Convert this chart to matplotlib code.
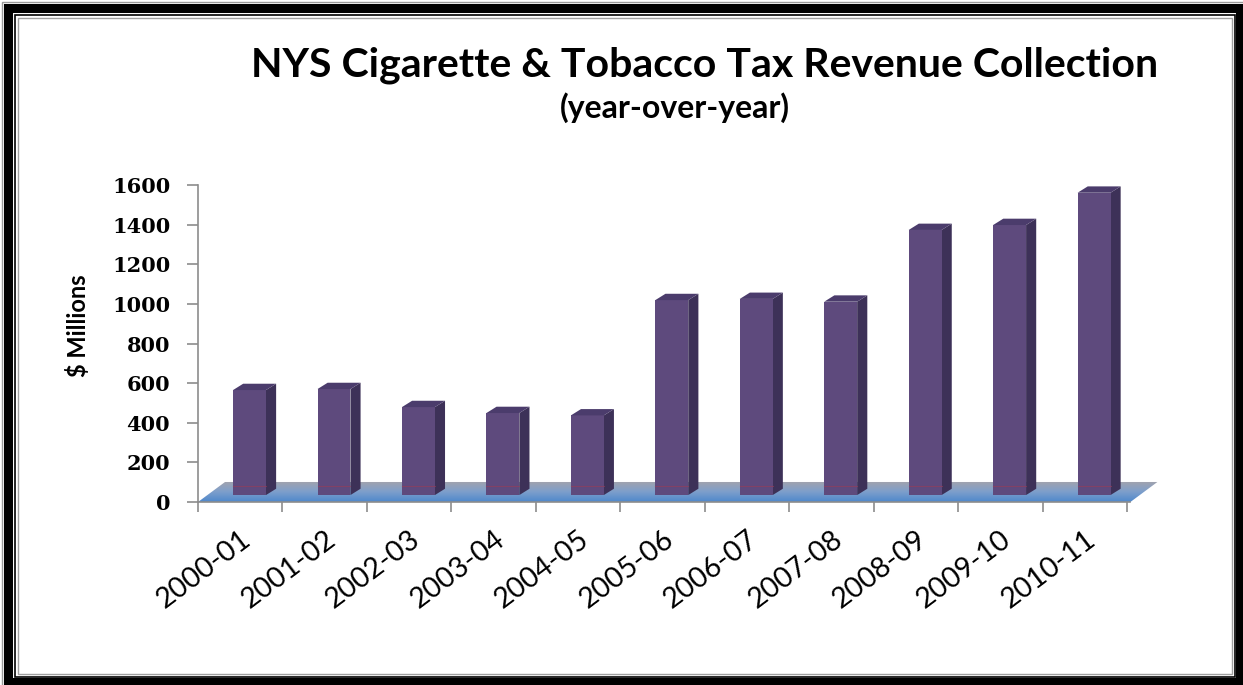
import numpy as np
import matplotlib.pyplot as plt
from matplotlib.patches import Rectangle, Polygon
from matplotlib.colors import LinearSegmentedColormap

# données (millions de $)
years = ["2000-01", "2001-02", "2002-03", "2003-04", "2004-05", "2005-06",
         "2006-07", "2007-08", "2008-09", "2009-10", "2010-11"]
revenue = [530, 535, 444, 414, 402, 984, 990, 976, 1338, 1363, 1526]
yticks = [0, 200, 400, 600, 800, 1000, 1200, 1400, 1600]

W, H = 1243, 685
fig = plt.figure(figsize=(W / 100, H / 100), dpi=100)


def fx(px):
    return px / W


def fy(py):
    return 1 - py / H


# cadre noir double
def frame(x0, y0, x1, y1, lw, color):
    fig.add_artist(Rectangle((fx(x0), fy(y1)), fx(x1) - fx(x0), fy(y0) - fy(y1),
                             transform=fig.transFigure, fill=False,
                             lw=lw, edgecolor=color))

frame(1.5, 1.5, 1250, 690, 1.0, "#9a9a9a")
frame(7.5, 7.5, 1240, 682, 6.5, "black")
frame(14.5, 14.5, 1234.5, 676.5, 1.2, "black")
frame(17.5, 17.5, 1232, 674, 1.0, "#a0a0a0")

# zone du graphique
ax = fig.add_axes([fx(198), fy(502), fx(1127) - fx(198), fy(185) - fy(502)])
ax.patch.set_alpha(0)
for s in ["top", "right", "bottom"]:
    ax.spines[s].set_visible(False)
ax.spines["left"].set_color("#8c8c8c")
ax.spines["left"].set_linewidth(1.2)

# sol en perspective avec dégradé
fdx, fdy = 0.32, 101
floor = Polygon([(0, 0), (11.04, 0), (11.04 + fdx, fdy), (fdx, fdy)],
                closed=True, facecolor="none", edgecolor="none")
ax.add_patch(floor)
floor.set_clip_on(False)
cmap = LinearSegmentedColormap.from_list("floor", ["#4f88cc", "#7e9fcb", "#a3a3ad"])
grad = np.linspace(0, 1, 50).reshape(-1, 1)
im = ax.imshow(grad, cmap=cmap, origin="lower", aspect="auto",
               extent=[0, 11.04 + fdx, 0, fdy], zorder=1)
im.set_clip_path(floor)
im.set_clip_box(fig.bbox)
ax.set_xlim(0, 11)
ax.set_ylim(0, 1600)
ax.plot([0, 11.04], [0, 0], color="#8c8c8c", lw=1.2, clip_on=False, zorder=2)

# barres 3D
x = np.arange(len(years)) + 0.61
bw, base = 0.39, 35
ddx, ddy = 0.12, 32
front = "#5e4a7d"
side = "#3d3158"
top = "#4b3c6c"
ax.bar(x, revenue, width=bw, bottom=base, color=front, zorder=4, clip_on=False)
for xi, v in zip(x, revenue):
    r = xi + bw / 2
    l = xi - bw / 2
    t = base + v
    ax.add_patch(Polygon([(r, base), (r + ddx, base + ddy), (r + ddx, t + ddy), (r, t)],
                         facecolor=side, edgecolor="none", zorder=3, clip_on=False))
    ax.add_patch(Polygon([(l, t), (r, t), (r + ddx, t + ddy), (l + ddx, t + ddy)],
                         facecolor=top, edgecolor="none", zorder=4, clip_on=False))
    ax.plot([l, r], [base + 45, base + 45], color="#9b3b55", lw=0.8, alpha=0.6, zorder=5)

# axes et graduations
ax.set_yticks(yticks)
ax.set_yticklabels([str(t) for t in yticks], fontfamily="DejaVu Serif",
                   fontweight="bold", fontsize=15)
ax.tick_params(axis="y", length=8, width=1.2, color="#8c8c8c", pad=12)
ax.set_xticks(np.arange(12), minor=True)
ax.set_xticks(np.arange(len(years)) + 0.5)
ax.set_xticklabels(years, rotation=37, ha="right", rotation_mode="anchor",
                   fontfamily="Lato", fontsize=20.5)
ax.tick_params(axis="x", which="major", length=0, pad=17)
ax.tick_params(axis="x", which="minor", length=7, width=1.2, color="#8c8c8c")

fig.text(fx(78), fy(326), "$ Millions", rotation=90, ha="center", va="center",
         fontfamily="Lato", fontweight="bold", fontsize=17)

fig.text(fx(705), fy(77), "NYS Cigarette & Tobacco Tax Revenue Collection",
         ha="center", va="baseline", fontfamily="Lato", fontweight="bold",
         fontsize=29.5)
fig.text(fx(675), fy(118), "(year-over-year)", ha="center", va="baseline",
         fontfamily="Lato", fontweight="bold", fontsize=23)

fig.savefig("out.png", dpi=100)
